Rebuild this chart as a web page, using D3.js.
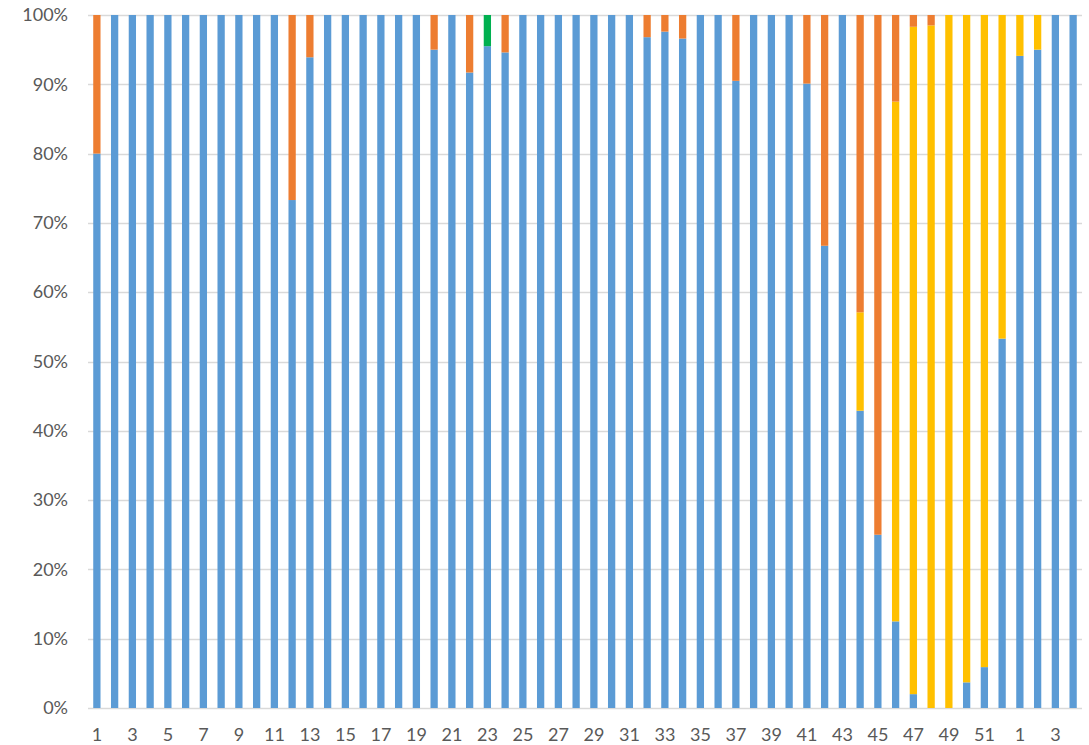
<!DOCTYPE html>
<html>
<head>
<meta charset="utf-8">
<script src="https://cdn.jsdelivr.net/npm/d3@7"></script>
<style>
  html, body { margin: 0; padding: 0; background: #fff; }
  svg { display: block; }
  text { font-family: Lato, "Open Sans", "Liberation Sans", sans-serif; }
</style>
</head>
<body>
<svg id="chart" width="1089" height="745"></svg>
<script>
// Week categories: 1..52 then 1..4
const categories = [];
for (let i = 1; i <= 52; i++) categories.push(String(i));
for (let i = 1; i <= 4; i++) categories.push(String(i));
const keys = categories.map((c, i) => i + "_" + c);

// Series values (percent of each bar), stacked bottom to top
const blueValues = [80,100,100,100,100,100,100,100,100,100,100,73.3,93.9,100,100,100,100,100,100,95,100,91.7,95.5,94.6,100,100,100,100,100,100,100,96.8,97.6,96.6,100,100,90.5,100,100,100,90.1,66.7,100,42.9,25,12.5,2,0,0,3.7,5.9,53.3,94.1,95,100,100];
const yellowValues = [0,0,0,0,0,0,0,0,0,0,0,0,0,0,0,0,0,0,0,0,0,0,0,0,0,0,0,0,0,0,0,0,0,0,0,0,0,0,0,0,0,0,0,14.2,0,75,96.3,98.5,100,96.3,94.1,46.7,5.9,5,0,0];
const orangeValues = [20,0,0,0,0,0,0,0,0,0,0,26.7,6.1,0,0,0,0,0,0,5,0,8.3,0,5.4,0,0,0,0,0,0,0,3.2,2.4,3.4,0,0,9.5,0,0,0,9.9,33.3,0,42.9,75,12.5,1.7,1.5,0,0,0,0,0,0,0,0];
const greenValues = [0,0,0,0,0,0,0,0,0,0,0,0,0,0,0,0,0,0,0,0,0,0,4.5,0,0,0,0,0,0,0,0,0,0,0,0,0,0,0,0,0,0,0,0,0,0,0,0,0,0,0,0,0,0,0,0,0];
const yTicks = [0,10,20,30,40,50,60,70,80,90,100];

const seriesNames = ["blue", "yellow", "orange", "green"];
const seriesColors = { blue: "#5B9BD5", yellow: "#FFC000", orange: "#ED7D31", green: "#00B050" };
const seriesData = { blue: blueValues, yellow: yellowValues, orange: orangeValues, green: greenValues };

const rows = keys.map((k, i) => {
  const r = { key: k, label: categories[i] };
  seriesNames.forEach(s => r[s] = seriesData[s][i]);
  return r;
});

const svg = d3.select("#chart");
const margin = { left: 88, right: 7, top: 15, bottom: 37 };
const W = 1089, H = 745;

const x = d3.scaleBand().domain(keys)
  .range([margin.left, W - margin.right])
  .paddingInner(0.59).paddingOuter(0.295);
const y = d3.scaleLinear().domain([0, 100]).range([H - margin.bottom, margin.top]);

// Gridlines
svg.append("g").selectAll("line").data(yTicks).join("line")
  .attr("x1", margin.left).attr("x2", W - margin.right)
  .attr("y1", d => Math.round(y(d)) + 0.5).attr("y2", d => Math.round(y(d)) + 0.5)
  .attr("stroke", "#D9D9D9").attr("stroke-width", 1.5);

const fontSize = "18px";

// Y axis labels
const yAxis = d3.axisLeft(y).tickValues(yTicks).tickFormat(d => d + "%").tickSize(0).tickPadding(0);
const yg = svg.append("g").attr("transform", `translate(${margin.left - 20},0)`).call(yAxis);
yg.select(".domain").remove();
yg.selectAll("text").attr("fill", "#595959").style("font-size", fontSize)
  .style("font-family", "Lato, 'Open Sans', sans-serif");

// Stacked bars
const stack = d3.stack().keys(seriesNames);
const stacked = stack(rows);
svg.append("g").selectAll("g").data(stacked).join("g")
  .attr("fill", d => seriesColors[d.key])
  .selectAll("rect").data(d => d.filter(p => p[1] - p[0] > 0)).join("rect")
  .attr("x", d => x(d.data.key))
  .attr("width", x.bandwidth())
  .attr("y", d => y(d[1]))
  .attr("height", d => y(d[0]) - y(d[1]));

// X axis labels (every other)
const xAxis = d3.axisBottom(x)
  .tickValues(keys.filter((k, i) => i % 2 === 0))
  .tickFormat(k => k.split("_")[1]).tickSize(0).tickPadding(0);
const xg = svg.append("g").attr("transform", `translate(0,${H - margin.bottom + 27})`).call(xAxis);
xg.select(".domain").remove();
xg.selectAll("text").attr("fill", "#595959").style("font-size", fontSize)
  .attr("y", 0).attr("dy", "0.35em")
  .style("font-family", "Lato, 'Open Sans', sans-serif");
</script>
</body>
</html>
